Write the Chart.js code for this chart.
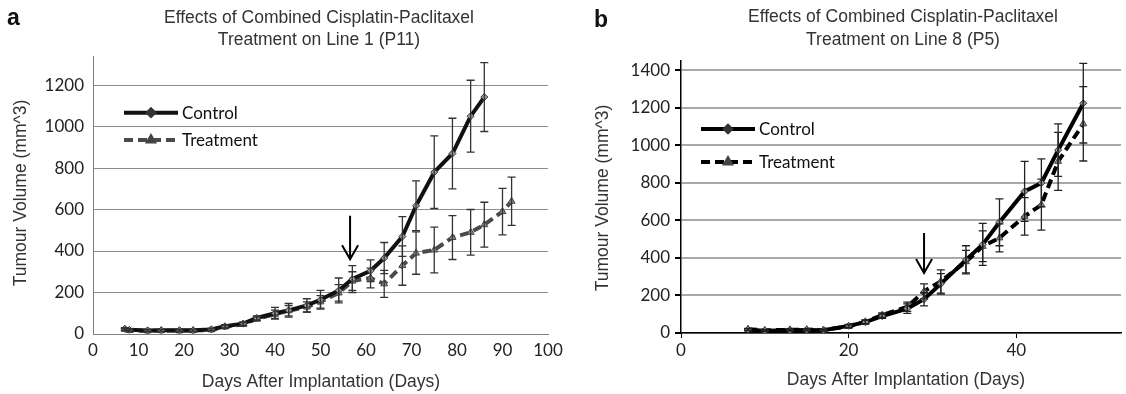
<!DOCTYPE html>
<html>
<head>
<meta charset="utf-8">
<script src="https://cdn.jsdelivr.net/npm/chart.js@4"></script>
<style>
  body { margin: 0; background: #fff; width: 1126px; height: 394px; position: relative; overflow: hidden; }
  .wrap { position: absolute; top: 0; height: 394px; }
  #wrapA { left: 0; width: 575px; }
  #wrapB { left: 575px; width: 551px; }
</style>
</head>
<body>
<div class="wrap" id="wrapA"><canvas id="chartA"></canvas></div>
<div class="wrap" id="wrapB"><canvas id="chartB"></canvas></div>
<script>
// ---- panel a : Line 1 (P11) ----
const daysA = [7, 8, 12, 15, 19, 22, 26, 29, 33, 36, 40, 43, 47, 50, 54, 57, 61, 64, 68, 71, 75, 79, 83, 86, 90, 92];
const controlA = [25, 20, 17, 18, 18, 18, 22, 37, 50, 77, 100, 114, 138, 165, 210, 265, 305, 366, 470, 618, 780, 870, 1050, 1142, null, null];
const controlErrA = [6, 6, 5, 5, 5, 5, 6, 8, 8, 10, 28, 33, 32, 45, 60, 65, 52, 75, 96, 120, 175, 170, 173, 166, null, null];
const treatA = [22, 17, 15, 16, 15, 16, 20, 34, 47, 73, 95, 112, 130, 155, 198, 255, 270, 242, 330, 390, 405, 465, 490, 527, 590, 640];
const treatErrA = [5, 5, 5, 5, 5, 5, 5, 7, 8, 10, 20, 25, 25, 30, 40, 45, 48, 65, 95, 102, 110, 106, 110, 108, 112, 116];

// ---- panel b : Line 8 (P5) ----
const daysB = [8, 10, 13, 15, 17, 20, 22, 24, 27, 29, 31, 34, 36, 38, 41, 43, 45, 48];
const controlB = [18, 12, 15, 16, 15, 38, 58, 90, 130, 180, 262, 390, 472, 590, 755, 800, 975, 1225];
const controlErrB = [5, 4, 5, 5, 5, 8, 10, 12, 25, 35, 55, 75, 112, 125, 160, 128, 140, 212];
const treatB = [20, 14, 17, 18, 16, 35, 60, 95, 140, 222, 275, 380, 462, 507, 622, 684, 915, 1115];
const treatErrB = [5, 4, 5, 5, 5, 8, 10, 12, 25, 40, 62, 60, 82, 75, 100, 136, 155, 198];

// treatment start arrows (day, from value, to value)
const arrowA = [56.5, 570, 360];
const arrowB = [29, 533, 320];

const seriesNames = ['Control', 'Treatment'];

function points(days, vals) {
  const out = [];
  days.forEach((d, i) => { if (vals[i] != null) out.push({ x: d, y: vals[i] }); });
  return out;
}
function errs(vals, e) {
  return e.filter((v, i) => vals[i] != null);
}

const errorBars = {
  id: 'errorBars',
  afterDatasetsDraw(chart) {
    const ctx = chart.ctx, ys = chart.scales.y;
    chart.data.datasets.forEach((ds, i) => {
      const meta = chart.getDatasetMeta(i);
      ctx.save();
      ctx.strokeStyle = ds.errColor;
      ctx.lineWidth = 1.3;
      ds.data.forEach((p, j) => {
        const e = ds.errors[j];
        const px = meta.data[j].x;
        const top = ys.getPixelForValue(p.y + e), bot = ys.getPixelForValue(p.y - e);
        ctx.beginPath();
        ctx.moveTo(px, top); ctx.lineTo(px, bot);
        ctx.moveTo(px - 4, top); ctx.lineTo(px + 4, top);
        ctx.moveTo(px - 4, bot); ctx.lineTo(px + 4, bot);
        ctx.stroke();
      });
      ctx.restore();
    });
  }
};

function panelText(t) {
  return {
    id: 'panelText',
    afterDraw(chart) {
      const ctx = chart.ctx;
      const xs = chart.scales.x, ys = chart.scales.y;
      ctx.save();
      ctx.fillStyle = '#111';
      ctx.font = 'bold 23px "Liberation Sans", Arial, sans-serif';
      ctx.textBaseline = 'alphabetic';
      ctx.textAlign = 'left';
      ctx.fillText(t.letter, t.letterX, t.letterY);

      ctx.fillStyle = '#333';
      ctx.font = '17.5px "Liberation Sans", Arial, sans-serif';
      ctx.textAlign = 'center';
      ctx.textBaseline = 'middle';
      ctx.fillText(t.title[0], t.titleX, t.titleY[0]);
      ctx.fillText(t.title[1], t.titleX, t.titleY[1]);
      ctx.fillText('Days After Implantation (Days)', t.xTitle[0], t.xTitle[1]);
      ctx.save();
      ctx.translate(t.yTitle[0], t.yTitle[1]);
      ctx.rotate(-Math.PI / 2);
      ctx.fillText('Tumour Volume (mm^3)', 0, 0);
      ctx.restore();

      // legend
      chart.data.datasets.forEach((ds, i) => {
        const ly = t.legY[i];
        ctx.save();
        ctx.strokeStyle = ds.borderColor;
        ctx.lineWidth = ds.borderWidth;
        ctx.setLineDash(ds.borderDash || []);
        ctx.beginPath();
        ctx.moveTo(t.legX[0], ly); ctx.lineTo(t.legX[1], ly);
        ctx.stroke();
        ctx.setLineDash([]);
        ctx.fillStyle = ds.pointBackgroundColor;
        ctx.strokeStyle = ds.pointBorderColor;
        Chart.helpers.drawPoint(ctx, { pointStyle: ds.pointStyle, radius: 3, rotation: 0, borderWidth: 1 },
          (t.legX[0] + t.legX[1]) / 2, ly);
        ctx.restore();
        ctx.fillStyle = '#111';
        ctx.font = '17px Lato, "Open Sans", sans-serif';
        ctx.textAlign = 'left';
        ctx.fillText(seriesNames[i], t.legX[1] + 4, ly + 1);
      });

      // arrow marking treatment start
      const ax = xs.getPixelForValue(t.arrow[0]);
      const a0 = ys.getPixelForValue(t.arrow[1]), a1 = ys.getPixelForValue(t.arrow[2]);
      ctx.strokeStyle = '#000';
      ctx.lineWidth = 2;
      ctx.beginPath();
      ctx.moveTo(ax, a0); ctx.lineTo(ax, a1);
      ctx.moveTo(ax - 8, a1 - 14); ctx.lineTo(ax, a1); ctx.lineTo(ax + 8, a1 - 14);
      ctx.stroke();
      ctx.restore();
    }
  };
}

function makePanel(id, cfg) {
  return new Chart(document.getElementById(id), {
    type: 'line',
    data: {
      datasets: [
        {
          data: points(cfg.days, cfg.control), errors: errs(cfg.control, cfg.controlErr), errColor: cfg.errColor,
          borderColor: cfg.controlColor, borderWidth: 4, pointStyle: 'rectRot', pointRadius: 3.5,
          pointBackgroundColor: '#9a9a9a', pointBorderColor: '#333', pointBorderWidth: 1, tension: 0
        },
        {
          data: points(cfg.days, cfg.treat), errors: errs(cfg.treat, cfg.treatErr), errColor: cfg.errColor,
          borderColor: cfg.treatColor, borderWidth: 4, borderDash: [9, 5], pointStyle: 'triangle', pointRadius: 4,
          pointBackgroundColor: '#8f8f8f', pointBorderColor: '#444', pointBorderWidth: 1, tension: 0
        }
      ]
    },
    options: {
      responsive: true,
      maintainAspectRatio: false,
      animation: false,
      devicePixelRatio: 1,
      layout: { padding: { top: cfg.top, right: cfg.right, left: 0, bottom: 0 } },
      plugins: { legend: { display: false }, tooltip: { enabled: false } },
      scales: {
        x: {
          type: 'linear', min: 0, max: cfg.xMax,
          ticks: { stepSize: cfg.xStep, includeBounds: false, color: '#222', padding: cfg.xPad,
                   callback: v => String(v),
                   font: { family: 'Lato, "Open Sans", sans-serif', size: 17 } },
          grid: { display: cfg.xTicks, drawOnChartArea: false, drawTicks: cfg.xTicks, tickLength: 5, tickColor: '#000' },
          border: { color: cfg.axisColor, width: cfg.axisWidth },
          afterFit: s => { s.height = cfg.xHeight; }
        },
        y: {
          min: 0, max: cfg.yMax,
          ticks: { stepSize: 200, includeBounds: false, color: '#222', padding: cfg.yPad,
                   callback: v => String(v),
                   font: { family: 'Lato, "Open Sans", sans-serif', size: 17 } },
          grid: { color: cfg.gridColor, lineWidth: cfg.gridWidth, drawTicks: cfg.yTicks, tickLength: 6, tickColor: '#000' },
          border: { color: cfg.axisColor, width: cfg.axisWidth },
          afterFit: s => { s.width = cfg.yWidth; }
        }
      }
    },
    plugins: [errorBars, panelText(cfg.text)]
  });
}

makePanel('chartA', {
  days: daysA, control: controlA, controlErr: controlErrA, treat: treatA, treatErr: treatErrA,
  controlColor: '#111', treatColor: '#4a4a4a', errColor: '#333',
  top: 56, right: 27, xHeight: 60, yWidth: 93, xMax: 100, xStep: 10, yMax: 1340,
  xPad: 6, yPad: 9, xTicks: false, yTicks: false,
  gridColor: '#8c8c8c', gridWidth: 1, axisColor: '#808080', axisWidth: 1,
  text: {
    letter: 'a', letterX: 7, letterY: 25,
    title: ['Effects of Combined Cisplatin-Paclitaxel', 'Treatment on Line 1 (P11)'],
    titleX: 319, titleY: [18, 40], xTitle: [321, 382], yTitle: [21, 193],
    legX: [124, 178], legY: [112.7, 140], arrow: arrowA
  }
});

makePanel('chartB', {
  days: daysB, control: controlB, controlErr: controlErrB, treat: treatB, treatErr: treatErrB,
  controlColor: '#000', treatColor: '#000', errColor: '#222',
  top: 61, right: 0, xHeight: 61, yWidth: 106, xMax: 52.5, xStep: 20, yMax: 1450,
  xPad: 2, yPad: 5, xTicks: true, yTicks: true,
  gridColor: '#a8a8a8', gridWidth: 2, axisColor: '#000', axisWidth: 1.5,
  text: {
    letter: 'b', letterX: 19, letterY: 27,
    title: ['Effects of Combined Cisplatin-Paclitaxel', 'Treatment on Line 8 (P5)'],
    titleX: 328, titleY: [17, 40], xTitle: [331, 380], yTitle: [28, 198],
    legX: [126, 180], legY: [129, 162], arrow: arrowB
  }
});
</script>
</body>
</html>
